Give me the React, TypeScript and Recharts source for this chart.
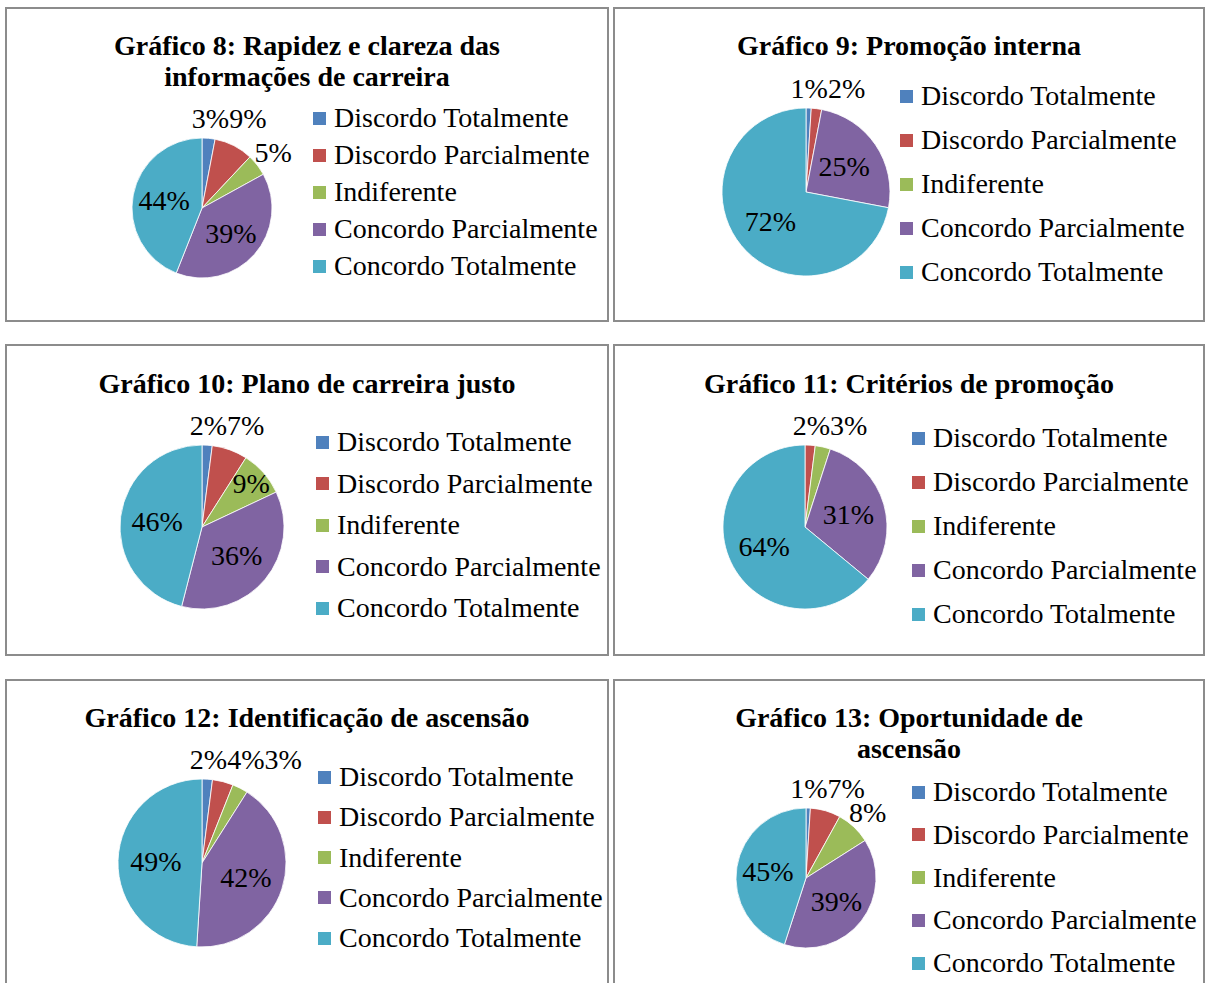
import { PieChart, Pie, Cell, Legend } from "recharts";

const categories = [
  "Discordo Totalmente",
  "Discordo Parcialmente",
  "Indiferente",
  "Concordo Parcialmente",
  "Concordo Totalmente",
];
const colors = ["#4F81BD", "#C0504D", "#9BBB59", "#8064A2", "#4BACC6"];

// percentages per chart, in category order
const grafico8 = [3, 9, 5, 39, 44];
const grafico9 = [1, 2, 0, 25, 72];
const grafico10 = [2, 7, 9, 36, 46];
const grafico11 = [0, 2, 3, 31, 64];
const grafico12 = [2, 4, 3, 42, 49];
const grafico13 = [1, 7, 8, 39, 45];

const titulo8 = ["Gráfico 8: Rapidez e clareza das", "informações de carreira"];
const titulo9 = ["Gráfico 9: Promoção interna"];
const titulo10 = ["Gráfico 10: Plano de carreira justo"];
const titulo11 = ["Gráfico 11: Critérios de promoção"];
const titulo12 = ["Gráfico 12: Identificação de ascensão"];
const titulo13 = ["Gráfico 13: Oportunidade de", "ascensão"];

const FONT = "'Liberation Serif', 'Times New Roman', serif";
const FS = 28;
const BORDER = 2;

// layout in page pixels
const panels = [
  { values: grafico8, title: titulo8, box: [5, 7, 604, 315], titleY: 45, pie: [202, 208, 70], legend: [313, 118, 37], edgeMin: 1 },
  { values: grafico9, title: titulo9, box: [613, 7, 592, 315], titleY: 45, pie: [806, 192, 84], legend: [900, 96, 44], edgeMin: 1 },
  { values: grafico10, title: titulo10, box: [5, 344, 604, 312], titleY: 383, pie: [202, 527, 82], legend: [316, 442, 41.5], edgeMin: 0.09 },
  { values: grafico11, title: titulo11, box: [613, 344, 592, 312], titleY: 383, pie: [805, 527, 82], legend: [912, 438, 44], edgeMin: 1 },
  { values: grafico12, title: titulo12, box: [5, 679, 604, 330], titleY: 717, pie: [202, 863, 84], legend: [318, 777, 40.25], edgeMin: 1 },
  { values: grafico13, title: titulo13, box: [613, 679, 592, 330], titleY: 717, pie: [806, 878, 70], legend: [912, 792, 42.75], edgeMin: 1 },
];

const RAD = Math.PI / 180;

// rough Excel "best fit": big slices inside, small ones outside, pushed apart
function placeLabels(values: number[], cx: number, cy: number, r: number, edgeMin: number) {
  const total = values.reduce((a, b) => a + b, 0);
  let cum = 0;
  const spots: any[] = [];
  let prev: any = null;
  values.forEach((v, i) => {
    const mid = 90 - (360 * (cum + v / 2)) / total;
    cum += v;
    if (v === 0) {
      spots[i] = null;
      return;
    }
    const frac = v / total;
    const text = `${Math.round(frac * 100)}%`;
    const w = FS * (0.5 * (text.length - 1) + 0.833);
    if (frac >= 0.2 || frac >= edgeMin) {
      const rr = frac >= 0.2 ? r * 0.55 : r * 0.8;
      spots[i] = { x: cx + rr * Math.cos(mid * RAD), y: cy - rr * Math.sin(mid * RAD), text };
      return;
    }
    const rr = r + 20;
    const s = { x: cx + rr * Math.cos(mid * RAD), y: cy - rr * Math.sin(mid * RAD), w, text };
    if (prev && Math.abs(s.y - prev.y) < FS * 0.75 && s.x - prev.x < (s.w + prev.w) / 2) {
      s.x = prev.x + (s.w + prev.w) / 2;
      s.y = prev.y;
    }
    prev = s;
    spots[i] = s;
  });
  return spots;
}

function makeLabel(values: number[], edgeMin: number) {
  return (props: any) => {
    const { cx, cy, outerRadius, index } = props;
    const s = placeLabels(values, cx, cy, outerRadius, edgeMin)[index];
    if (!s) return <g />;
    return (
      <text x={s.x} y={s.y} textAnchor="middle" dominantBaseline="central" fill="#000" fontSize={FS} fontFamily={FONT}>
        {s.text}
      </text>
    );
  };
}

function makeLegend(gap: number) {
  return () => (
    <div>
      {categories.map((c, i) => (
        <div key={c} style={{ display: "flex", alignItems: "center", height: gap, whiteSpace: "nowrap" }}>
          <span style={{ display: "inline-block", width: 13, height: 13, background: colors[i], marginRight: 8 }} />
          <span style={{ fontSize: FS, lineHeight: 1, color: "#000", fontFamily: FONT }}>{c}</span>
        </div>
      ))}
    </div>
  );
}

function Panel({ p }: { p: (typeof panels)[number] }) {
  const [bx, by, bw, bh] = p.box;
  const ox = bx + BORDER;
  const oy = by + BORDER;
  const w = bw - 2 * BORDER;
  const h = bh - 2 * BORDER;
  const [pcx, pcy, r] = p.pie;
  const [lx, ly, gap] = p.legend;
  const rows = categories.map((name, i) => ({ name, value: p.values[i] }));

  return (
    <div
      style={{
        position: "absolute",
        left: bx,
        top: by,
        width: w,
        height: h,
        border: `${BORDER}px solid #8c8c8c`,
        background: "#fff",
      }}
    >
      <div
        style={{
          position: "absolute",
          left: 0,
          width: w,
          top: p.titleY - oy - 15.5,
          textAlign: "center",
          fontWeight: "bold",
          fontSize: FS,
          lineHeight: "31px",
          whiteSpace: "nowrap",
        }}
      >
        {p.title.map((t) => (
          <div key={t}>{t}</div>
        ))}
      </div>
      <div style={{ position: "absolute", left: 0, top: 0 }}>
        <PieChart width={w} height={h} margin={{ top: 0, right: 0, bottom: 0, left: 0 }}>
          <Pie
            data={rows}
            dataKey="value"
            nameKey="name"
            cx={pcx - ox}
            cy={pcy - oy}
            outerRadius={r}
            startAngle={90}
            endAngle={-270}
            stroke="#ffffff"
            strokeWidth={0.8}
            label={makeLabel(p.values, p.edgeMin)}
            labelLine={false}
            isAnimationActive={false}
          >
            {rows.map((row, i) => (
              <Cell key={row.name} fill={colors[i]} />
            ))}
          </Pie>
          <Legend
            layout="vertical"
            align="right"
            verticalAlign="top"
            content={makeLegend(gap)}
            wrapperStyle={{ left: lx - ox, top: ly - oy - gap / 2, right: "auto", width: "auto" }}
          />
        </PieChart>
      </div>
    </div>
  );
}

export default function App() {
  return (
    <div
      style={{
        position: "absolute",
        left: 0,
        top: 0,
        width: 1205,
        height: 983,
        overflow: "hidden",
        background: "#fff",
        fontFamily: FONT,
        color: "#000",
      }}
    >
      {panels.map((p) => (
        <Panel key={p.title[0]} p={p} />
      ))}
    </div>
  );
}
